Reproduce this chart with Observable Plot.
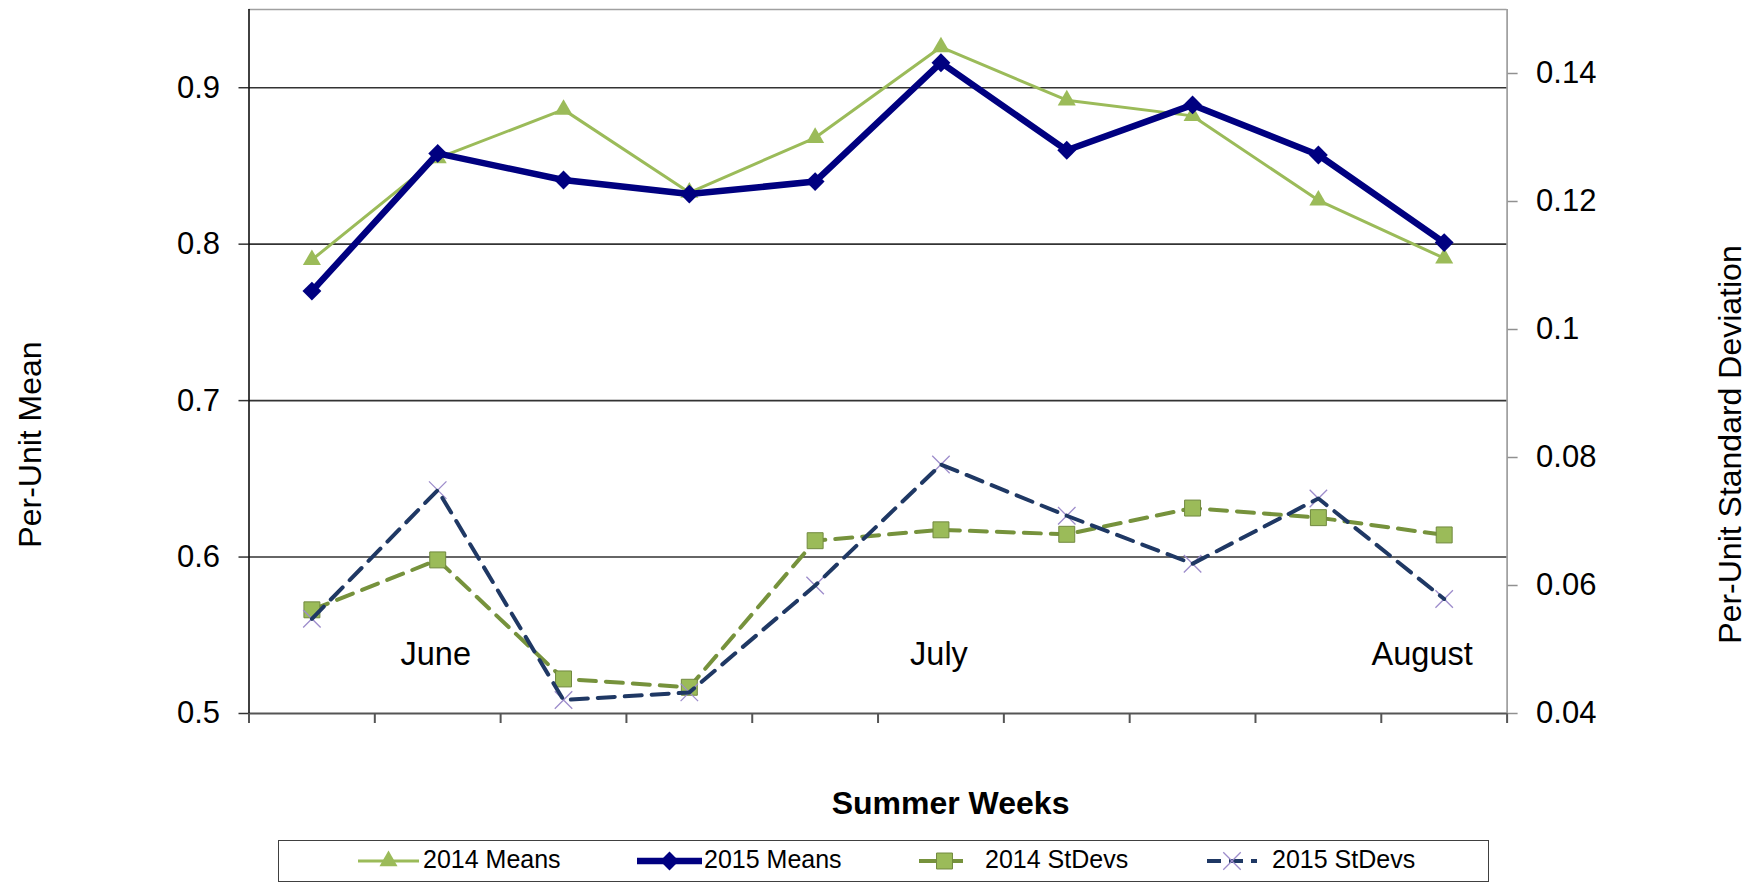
<!DOCTYPE html>
<html>
<head>
<meta charset="utf-8">
<script src="https://cdn.jsdelivr.net/npm/d3@7"></script>
<script src="https://cdn.jsdelivr.net/npm/@observablehq/plot@0.6"></script>
<style>
  html, body { margin: 0; padding: 0; background: #fff; }
  #page { position: relative; width: 1755px; height: 887px; overflow: hidden; font-family: "Liberation Sans", Arial, sans-serif; }
  #chart { position: absolute; left: 0; top: 0; }
  .lg-box { position: absolute; left: 278px; top: 840px; width: 1211px; height: 42px; box-sizing: border-box; border: 1.5px solid #404040; }
  .lg-text { position: absolute; font-size: 25px; line-height: 28px; color: #000; white-space: nowrap; }
  .lg-svg { position: absolute; overflow: visible; }
</style>
</head>
<body>
<div id="page">
  <div id="chart"></div>
</div>
<script>
// ---- data ----
const weeks = [1, 2, 3, 4, 5, 6, 7, 8, 9, 10];
const means2014 = [0.790, 0.855, 0.886, 0.833, 0.868, 0.926, 0.892, 0.882, 0.828, 0.791];
const means2015 = [0.770, 0.858, 0.841, 0.832, 0.840, 0.916, 0.860, 0.889, 0.857, 0.801];
const stdev2014 = [0.0562, 0.0640, 0.0454, 0.0441, 0.0670, 0.0687, 0.0680, 0.0721, 0.0706, 0.0679];
const stdev2015 = [0.0548, 0.0749, 0.0421, 0.0433, 0.0600, 0.0789, 0.0709, 0.0634, 0.0736, 0.0579];
const meanTicks = [0.5, 0.6, 0.7, 0.8, 0.9];
const sdTicks = [0.04, 0.06, 0.08, 0.1, 0.12, 0.14];
const monthLabels = ["June", "July", "August"];
const monthWeeks = [2, 6, 10];
const seriesNames = ["2014 Means", "2015 Means", "2014 StDevs", "2015 StDevs"];
const leftTitle = "Per-Unit Mean";
const rightTitle = "Per-Unit Standard Deviation";
const xTitle = "Summer Weeks";

// ---- dual-axis mapping (right axis 0.04..0.15 onto left 0.5..0.95) ----
const meanDomain = [0.5, 0.95];
const sdDomain = [0.04, 0.15];
const k = (meanDomain[1] - meanDomain[0]) / (sdDomain[1] - sdDomain[0]);
const sdToMean = v => meanDomain[0] + (v - sdDomain[0]) * k;
const meanToSd = v => sdDomain[0] + (v - meanDomain[0]) / k;

const rows = weeks.map((w, i) => ({
  week: w,
  m14: means2014[i],
  m15: means2015[i],
  s14: sdToMean(stdev2014[i]),
  s15: sdToMean(stdev2015[i])
}));
const months = monthLabels.map((m, i) => ({label: m, week: monthWeeks[i]}));
const xBounds = d3.range(weeks.length + 1).map(i => weeks[0] - 0.5 + i);

const C14 = "#9BBB59", C15 = "#000080", CS14 = "#76923C", CS15 = "#1F3864", CX = "#9D8CCB";

const W = 1755, H = 838, plotBottom = 713;
const chart = Plot.plot({
  width: W,
  height: H,
  marginLeft: 248.5,
  marginRight: 248.4,
  marginTop: 9,
  marginBottom: H - plotBottom,
  x: {domain: [xBounds[0], xBounds[xBounds.length - 1]]},
  y: {domain: meanDomain},
  style: {fontFamily: "'Liberation Sans', Arial, sans-serif", fontSize: "31px", color: "#000", background: "#fff", overflow: "visible"},
  marks: [
    // frame
    Plot.ruleY([meanDomain[1]], {stroke: "#a0a0a0", strokeWidth: 1.5}),
    Plot.ruleY(meanTicks.slice(1), {stroke: "#333", strokeWidth: 1.6}),
    Plot.ruleX([xBounds[xBounds.length - 1]], {stroke: "#909090", strokeWidth: 1.5}),
    // axes
    Plot.axisX(xBounds, {anchor: "bottom", tickSize: 10, tickFormat: () => "", stroke: "#555", strokeWidth: 2, label: null}),
    Plot.axisY(meanTicks, {anchor: "left", tickSize: 10, tickPadding: 19, tickFormat: d => d.toFixed(1), fontSize: 31, stroke: "#333", strokeWidth: 1.5, label: null}),
    Plot.axisY(sdTicks.map(sdToMean), {anchor: "right", tickSize: 10, tickPadding: 19, tickFormat: d => String(+meanToSd(d).toFixed(2)), fontSize: 31, stroke: "#909090", strokeWidth: 1.5, label: null}),
    Plot.ruleY([meanDomain[0]], {stroke: "#555", strokeWidth: 2}),
    Plot.ruleX([xBounds[0]], {stroke: "#111", strokeWidth: 1.6}),
    // month labels
    Plot.text(months.slice(0, 2), {x: "week", text: "label", frameAnchor: "bottom", dy: -49, dx: -2, fontSize: 32.5, fill: "#000"}),
    Plot.text(months.slice(2), {x: "week", text: "label", frameAnchor: "bottom", dy: -49, dx: -22, fontSize: 32.5, fill: "#000"}),
    // 2014 Means
    Plot.line(rows, {x: "week", y: "m14", stroke: C14, strokeWidth: 3}),
    Plot.dot(rows, {x: "week", y: "m14", symbol: "triangle", r: 6.7, fill: C14}),
    // 2015 Means
    Plot.line(rows, {x: "week", y: "m15", stroke: C15, strokeWidth: 6.5}),
    Plot.dot(rows, {x: "week", y: "m15", symbol: "diamond2", r: 8.5, fill: C15}),
    // 2014 StDevs
    Plot.line(rows, {x: "week", y: "s14", stroke: CS14, strokeWidth: 4, strokeDasharray: "17,10"}),
    Plot.dot(rows, {x: "week", y: "s14", symbol: "square", r: 9, fill: C14, stroke: "#71893F", strokeWidth: 1}),
    // 2015 StDevs
    Plot.dot(rows, {x: "week", y: "s15", symbol: "times", r: 8, stroke: CX, strokeWidth: 1.3}),
    Plot.line(rows, {x: "week", y: "s15", stroke: CS15, strokeWidth: 4, strokeDasharray: "17,10"}),
    // axis titles
    Plot.text([leftTitle], {frameAnchor: "left", rotate: -90, dx: -218, dy: 83, fontSize: 32, fill: "#000", textAnchor: "middle"}),
    Plot.text([rightTitle], {frameAnchor: "right", rotate: -90, dx: 223.5, dy: 83, fontSize: 32, fill: "#000", textAnchor: "middle"}),
    Plot.text([xTitle], {frameAnchor: "bottom", dx: 72.5, dy: 100, fontSize: 32, fontWeight: "bold", fill: "#000", textAnchor: "middle"})
  ]
});
document.getElementById("chart").appendChild(chart);

// ---- legend (below the plot) ----
const page = document.getElementById("page");
const box = document.createElement("div");
box.className = "lg-box";
page.appendChild(box);
const lgY = 861;
const legendItems = [
  {name: seriesNames[0], x0: 358, x1: 419, tx: 423, stroke: C14, sw: 3, dash: null, sym: d3.symbolTriangle, r: 6.7, fill: C14, mstroke: "none"},
  {name: seriesNames[1], x0: 637, x1: 702, tx: 704, stroke: C15, sw: 6.5, dash: null, sym: d3.symbolDiamond2, r: 8.5, fill: C15, mstroke: "none"},
  {name: seriesNames[2], x0: 919, x1: 970, tx: 985, stroke: CS14, sw: 4, dash: "17,10", sym: d3.symbolSquare, r: 9, fill: C14, mstroke: "#71893F"},
  {name: seriesNames[3], x0: 1207, x1: 1257, tx: 1272, stroke: CS15, sw: 4, dash: "14,8", sym: d3.symbolTimes, r: 8, fill: "none", mstroke: CX}
];
legendItems.forEach((it, i) => {
  const svg = d3.create("svg").attr("class", "lg-svg")
    .attr("width", it.x1 - it.x0).attr("height", 30)
    .style("left", it.x0 + "px").style("top", (lgY - 15) + "px");
  const w = it.x1 - it.x0;
  const line = svg.append("line").attr("x1", 0).attr("x2", w).attr("y1", 15).attr("y2", 15)
    .attr("stroke", it.stroke).attr("stroke-width", it.sw);
  if (it.dash) line.attr("stroke-dasharray", it.dash);
  const path = d3.symbol(it.sym, Math.PI * it.r * it.r)();
  const mk = svg.append("path").attr("d", path).attr("transform", `translate(${w / 2},15)`)
    .attr("fill", it.fill).attr("stroke", it.mstroke);
  if (i === 3) mk.attr("stroke-width", 1.3);
  page.appendChild(svg.node());
  const t = document.createElement("div");
  t.className = "lg-text";
  t.textContent = it.name;
  t.style.left = it.tx + "px";
  t.style.top = "845px";
  page.appendChild(t);
});
</script>
</body>
</html>
